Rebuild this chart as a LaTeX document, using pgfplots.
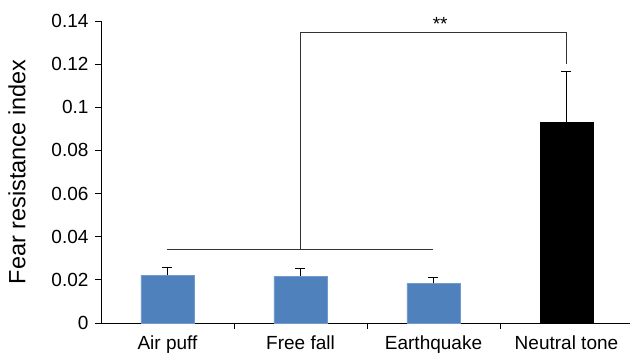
\documentclass[border=0pt]{standalone}
\usepackage{pgfplots}
\pgfplotsset{compat=1.18}
\usepackage{fontspec}
\setmainfont{Liberation Sans}
\definecolor{barblue}{HTML}{4F81BD}
\begin{document}
\fontsize{19pt}{22pt}\selectfont
\begin{tikzpicture}
\begin{axis}[
  at={(0,0)}, anchor=south west,
  scale only axis, width=532pt, height=302pt,
  xmin=-0.5, xmax=3.5, ymin=0, ymax=0.14,
  axis lines*=left, axis line style={black, line width=0.8pt},
  clip=false,
  xtick={0,1,2,3},
  xticklabels={Air puff, Free fall, Earthquake, Neutral tone},
  minor xtick={0.5,1.5,2.5},
  xtick style={draw=none},
  minor x tick style={draw=black, line width=0.8pt},
  minor tick length=6pt,
  ytick={0,0.02,0.04,0.06,0.08,0.1,0.12,0.14},
  yticklabels={0,0.02,0.04,0.06,0.08,0.1,0.12,0.14},
  ytick style={black, line width=0.8pt},
  major tick length=6pt,
  tick align=outside,
  ticklabel style={font=\fontsize{19pt}{22pt}\selectfont},
  /pgf/number format/assume math mode=true,
  ylabel={Fear resistance index},
  ylabel style={font=\fontsize{23.5pt}{28pt}\selectfont, at={(axis description cs:-0.158,0.5)}, anchor=center},
]
\addplot[ybar, bar width=53pt, fill=barblue, draw=barblue!80!white,
  error bars/.cd, y dir=plus, y explicit,
  error bar style={black, line width=0.7pt},
  error mark options={rotate=90, mark size=5pt, line width=0.7pt}]
  coordinates {(0,0.0221) +- (0,0.0037) (1,0.0217) +- (0,0.0037) (2,0.0184) +- (0,0.0028)};
\addplot[ybar, bar width=53pt, fill=black, draw=black,
  error bars/.cd, y dir=plus, y explicit,
  error bar style={black, line width=0.7pt},
  error mark options={rotate=90, mark size=5pt, line width=0.7pt}]
  coordinates {(3,0.0929) +- (0,0.0237)};
\addplot[sharp plot, no marks, black!80, line width=0.8pt] coordinates {(0,0.0343) (2,0.0343)};
\addplot[sharp plot, no marks, black!80, line width=0.8pt] coordinates {(1,0.0343) (1,0.1346) (3,0.1346) (3,0.120)};
\node[anchor=south, font=\fontsize{19pt}{22pt}\selectfont, inner sep=1pt] at (axis cs:2.05,0.1352) {**};
\end{axis}
\pgfresetboundingbox
\path (-101pt,-32pt) rectangle (529pt,323pt);
\end{tikzpicture}
\end{document}
